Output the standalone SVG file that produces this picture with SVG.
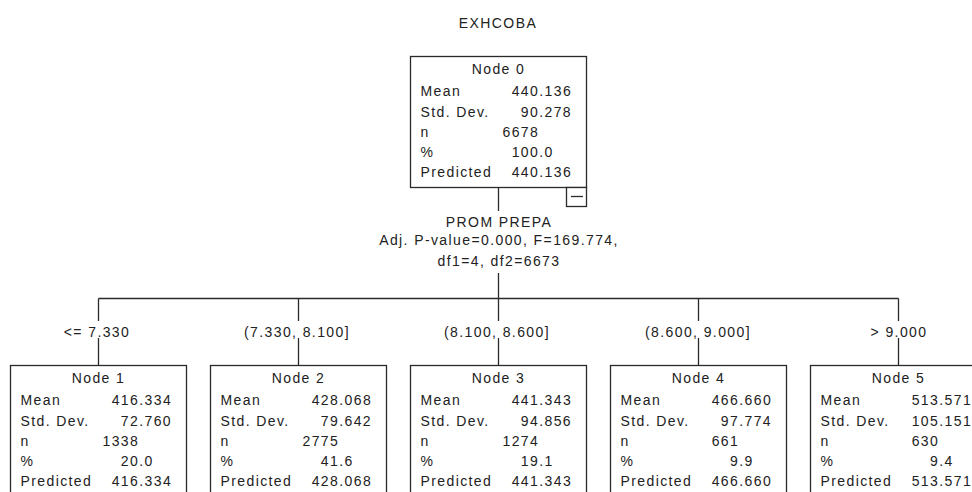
<svg xmlns="http://www.w3.org/2000/svg" width="972" height="492" viewBox="0 0 972 492">
<style>
text{font-family:"Liberation Sans",Arial,sans-serif;font-size:14px;letter-spacing:1.4px;fill:#222}
.c{text-anchor:middle}
.box{fill:#fff;stroke:#2a2a2a;stroke-width:1.3}
.ln{stroke:#2a2a2a;stroke-width:1.3;fill:none}
</style>
<rect width="972" height="492" fill="#fff"/>
<text id="title" class="c" x="498" y="28">EXHCOBA</text>

<g id="connectors">
<path class="ln" d="M498.5 187.5V211M498.5 273V298.5M98.5 298.5H898.5"/>
<path class="ln" d="M98.5 298.5V321M98.5 338V366"/>
<path class="ln" d="M298.5 298.5V321M298.5 338V366"/>
<path class="ln" d="M498.5 298.5V321M498.5 338V366"/>
<path class="ln" d="M698.5 298.5V321M698.5 338V366"/>
<path class="ln" d="M898.5 298.5V321M898.5 338V366"/>
<text class="c" x="97" y="337">&lt;= 7.330</text>
<text class="c" x="297" y="337">(7.330, 8.100]</text>
<text class="c" x="497" y="337">(8.100, 8.600]</text>
<text class="c" x="698" y="337">(8.600, 9.000]</text>
<text class="c" x="899" y="337">&gt; 9.000</text>
</g>

<g id="split-0">
<text class="c" x="499" y="227">PROM PREPA</text>
<text class="c" x="499" y="245">Adj. P-value=0.000, F=169.774,</text>
<text class="c" x="499" y="266">df1=4, df2=6673</text>
</g>

<g id="node-0">
<rect class="box" x="410.5" y="56.5" width="176" height="131"/>
<rect class="box" x="566.5" y="187.5" width="20" height="19"/>
<path class="ln" d="M571 196.5H583"/>
<text class="c" x="498.5" y="74">Node 0</text>
<text x="420.5" y="96">Mean</text><text x="511.7" y="96">440.136</text>
<text x="420.5" y="117">Std. Dev.</text><text x="520.8" y="117">90.278</text>
<text x="420.5" y="137">n</text><text x="502.5" y="137">6678</text>
<text x="420.5" y="157">%</text><text x="511.7" y="157">100.0</text>
<text x="420.5" y="177">Predicted</text><text x="511.7" y="177">440.136</text>
</g>

<g id="node-1">
<rect class="box" x="10.5" y="365.5" width="176" height="132"/>
<text class="c" x="98.5" y="383">Node 1</text>
<text x="20.5" y="405">Mean</text><text x="111.7" y="405">416.334</text>
<text x="20.5" y="426">Std. Dev.</text><text x="120.8" y="426">72.760</text>
<text x="20.5" y="446">n</text><text x="102.5" y="446">1338</text>
<text x="20.5" y="466">%</text><text x="120.8" y="466">20.0</text>
<text x="20.5" y="486">Predicted</text><text x="111.7" y="486">416.334</text>
</g>

<g id="node-2">
<rect class="box" x="210.5" y="365.5" width="176" height="132"/>
<text class="c" x="298.5" y="383">Node 2</text>
<text x="220.5" y="405">Mean</text><text x="311.7" y="405">428.068</text>
<text x="220.5" y="426">Std. Dev.</text><text x="320.8" y="426">79.642</text>
<text x="220.5" y="446">n</text><text x="302.5" y="446">2775</text>
<text x="220.5" y="466">%</text><text x="320.8" y="466">41.6</text>
<text x="220.5" y="486">Predicted</text><text x="311.7" y="486">428.068</text>
</g>

<g id="node-3">
<rect class="box" x="410.5" y="365.5" width="176" height="132"/>
<text class="c" x="498.5" y="383">Node 3</text>
<text x="420.5" y="405">Mean</text><text x="511.7" y="405">441.343</text>
<text x="420.5" y="426">Std. Dev.</text><text x="520.8" y="426">94.856</text>
<text x="420.5" y="446">n</text><text x="502.5" y="446">1274</text>
<text x="420.5" y="466">%</text><text x="520.8" y="466">19.1</text>
<text x="420.5" y="486">Predicted</text><text x="511.7" y="486">441.343</text>
</g>

<g id="node-4">
<rect class="box" x="610.5" y="365.5" width="176" height="132"/>
<text class="c" x="698.5" y="383">Node 4</text>
<text x="620.5" y="405">Mean</text><text x="711.7" y="405">466.660</text>
<text x="620.5" y="426">Std. Dev.</text><text x="720.8" y="426">97.774</text>
<text x="620.5" y="446">n</text><text x="711.7" y="446">661</text>
<text x="620.5" y="466">%</text><text x="730" y="466">9.9</text>
<text x="620.5" y="486">Predicted</text><text x="711.7" y="486">466.660</text>
</g>

<g id="node-5">
<rect class="box" x="810.5" y="365.5" width="176" height="132"/>
<text class="c" x="898.5" y="383">Node 5</text>
<text x="820.5" y="405">Mean</text><text x="911.7" y="405">513.571</text>
<text x="820.5" y="426">Std. Dev.</text><text x="911.7" y="426">105.151</text>
<text x="820.5" y="446">n</text><text x="911.7" y="446">630</text>
<text x="820.5" y="466">%</text><text x="930" y="466">9.4</text>
<text x="820.5" y="486">Predicted</text><text x="911.7" y="486">513.571</text>
</g>
</svg>
